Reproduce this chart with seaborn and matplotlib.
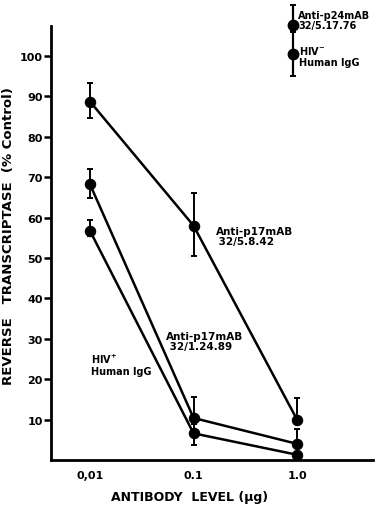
import numpy as np
import pandas as pd
import matplotlib
matplotlib.use("Agg")
import matplotlib.pyplot as plt
import seaborn as sns

# ---- data ----
doses = [0.01, 0.1, 1.0]
p17_5842 = [88.7, 58.0, 10.0]
p17_5842_lo = [84.6, 50.4, 10.0]
p17_5842_hi = [93.2, 66.0, 15.3]
p17_12489 = [68.2, 10.4, 4.0]
p17_12489_lo = [64.8, 10.4, 4.0]
p17_12489_hi = [72.0, 15.7, 7.6]
hivpos = [56.7, 6.6, 1.3]
hivpos_lo = [55.5, 3.8, 1.3]
hivpos_hi = [59.4, 8.8, 1.3]
series_names = ["Anti-p17mAB 32/5.8.42", "Anti-p17mAB 32/1.24.89", "HIV+ Human IgG"]

ctrl_dose = 0.915
p24_val, p24_lo, p24_hi = 107.7, 106.2, 112.6
hivneg_val, hivneg_lo, hivneg_hi = 100.5, 95.0, 106.0

yticks = [10, 20, 30, 40, 50, 60, 70, 80, 90, 100]
xticks = [0.01, 0.1, 1.0]
xticklabels = ["0,01", "0.1", "1.0"]

df = pd.DataFrame({
    "dose": doses * 3,
    "rt": p17_5842 + p17_12489 + hivpos,
    "series": sum([[n] * 3 for n in series_names], []),
})

sns.set_theme(style="white")
plt.rcParams["font.family"] = ["DejaVu Sans"]
plt.rcParams["font.weight"] = "bold"
plt.rcParams["text.color"] = "black"
plt.rcParams["xtick.color"] = "black"
plt.rcParams["ytick.color"] = "black"
plt.rcParams["xtick.labelcolor"] = "black"
plt.rcParams["ytick.labelcolor"] = "black"

fig = plt.figure(figsize=(3.86, 5.06), dpi=100)
ax = fig.add_axes([51 / 386, 1 - 461 / 506, (373 - 51) / 386, (461 - 27) / 506])

sns.lineplot(data=df, x="dose", y="rt", units="series", estimator=None,
             color="black", lw=1.8, marker="o", markersize=7.5,
             markeredgecolor="black", ax=ax, legend=False)

for vals, lo, hi in [(p17_5842, p17_5842_lo, p17_5842_hi),
                     (p17_12489, p17_12489_lo, p17_12489_hi),
                     (hivpos, hivpos_lo, hivpos_hi)]:
    v = np.array(vals); l = np.array(lo); h = np.array(hi)
    ax.errorbar(doses, v, yerr=[v - l, h - v], fmt="none", ecolor="black",
                elinewidth=1.4, capsize=2.5, capthick=1.4)

for val, lo, hi in [(p24_val, p24_lo, p24_hi), (hivneg_val, hivneg_lo, hivneg_hi)]:
    ax.errorbar([ctrl_dose], [val], yerr=[[val - lo], [hi - val]], fmt="o",
                color="black", markersize=7.5, elinewidth=1.6, capsize=2.5,
                capthick=1.4, clip_on=False)

ax.set_xscale("log")
ax.set_xlim(10 ** -2.377, 10 ** 0.734)
ax.set_ylim(0, 107.4)
ax.set_yticks(yticks)
ax.set_yticklabels([str(t) for t in yticks], fontsize=8, fontweight="bold", color="black")
ax.set_xticks(xticks)
ax.set_xticklabels(xticklabels, fontsize=8, fontweight="bold", color="black")
ax.minorticks_off()
ax.tick_params(axis="y", direction="out", length=5, width=1.8, pad=1, left=True,
               colors="black")
ax.tick_params(axis="x", length=0, pad=7, colors="black")
ax.set_xlabel("")
ax.set_ylabel("")
for s in ["top", "right"]:
    ax.spines[s].set_visible(False)
for s in ["left", "bottom"]:
    ax.spines[s].set_color("black")
    ax.spines[s].set_linewidth(2)

# annotations
ax.text(0.163, 55.5, "Anti-p17mAB\n 32/5.8.42", fontsize=7.5, fontweight="bold",
        ha="left", va="center", linespacing=1.0, color="black")
ax.text(0.054, 29.4, "Anti-p17mAB\n 32/1.24.89", fontsize=7.5, fontweight="bold",
        ha="left", va="center", linespacing=1.0, color="black")
ax.text(0.0103, 23.8, "HIV$^{+}$\nHuman IgG", fontsize=7, fontweight="bold",
        ha="left", va="center", linespacing=1.1, color="black")
ax.text(1.03, 109.0, "Anti-p24mAB\n32/5.17.76", fontsize=7, fontweight="bold",
        ha="left", va="center", linespacing=1.0, clip_on=False, color="black")
ax.text(1.05, 100.1, "HIV$^{-}$\nHuman IgG", fontsize=7, fontweight="bold",
        ha="left", va="center", linespacing=1.1, clip_on=False, color="black")

fig.text(9 / 386, 1 - 236 / 506, "REVERSE   TRANSCRIPTASE  (% Control)", rotation=90,
         fontsize=9.5, fontweight="bold", ha="center", va="center", color="black")
fig.text(190 / 386, 1 - 498 / 506, "ANTIBODY  LEVEL (\u03bcg)", fontsize=9,
         fontweight="bold", ha="center", va="center", color="black")

fig.savefig("out.png", dpi=100)
